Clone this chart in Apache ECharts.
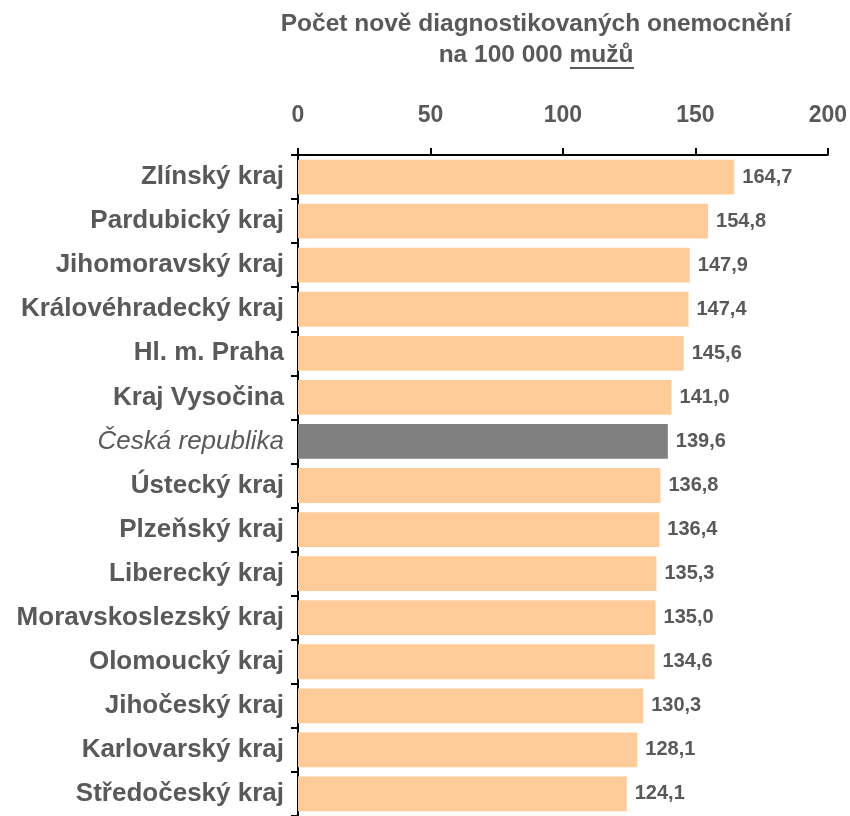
<!DOCTYPE html>
<html>
<head>
<meta charset="utf-8">
<script src="https://cdn.jsdelivr.net/npm/echarts@6/dist/echarts.min.js"></script>
<style>
  html, body { margin: 0; padding: 0; background: #fff; }
  #chart { width: 850px; height: 816px; }
</style>
</head>
<body>
<div id="chart"></div>
<script>
var kraje = [
  "Zlínský kraj", "Pardubický kraj", "Jihomoravský kraj", "Královéhradecký kraj",
  "Hl. m. Praha", "Kraj Vysočina", "Česká republika", "Ústecký kraj",
  "Plzeňský kraj", "Liberecký kraj", "Moravskoslezský kraj", "Olomoucký kraj",
  "Jihočeský kraj", "Karlovarský kraj", "Středočeský kraj"
];
var hodnoty = [164.7, 154.8, 147.9, 147.4, 145.6, 141.0, 139.6, 136.8, 136.4, 135.3, 135.0, 134.6, 130.3, 128.1, 124.1];
var celkem = "Česká republika";

var textColor = "#595959";
var font = "Liberation Sans, Arial, sans-serif";

var chart = echarts.init(document.getElementById("chart"));

var data = [];
kraje.forEach(function (k, i) {
  data.push({
    value: hodnoty[i],
    itemStyle: { color: k === celkem ? "#808080" : "#FFCC99" }
  });
});

var option = {
  animation: false,
  title: {
    text: "Počet nově diagnostikovaných onemocnění\nna 100 000 mužů",
    left: 531,
    top: 4,
    textAlign: "center",
    textStyle: {
      color: textColor,
      fontFamily: font,
      fontWeight: "bold",
      fontSize: 24.5,
      lineHeight: 31
    }
  },
  grid: {
    left: 298,
    right: 22,
    top: 155,
    bottom: -4
  },
  xAxis: {
    type: "value",
    position: "top",
    min: 0,
    max: 200,
    interval: 50,
    splitLine: { show: false },
    axisLine: { show: true, lineStyle: { color: "#000", width: 2 } },
    axisTick: { show: true, length: 7, lineStyle: { color: "#000", width: 2 } },
    axisLabel: {
      color: textColor,
      fontFamily: font,
      fontWeight: "bold",
      fontSize: 23,
      margin: 28
    }
  },
  yAxis: {
    type: "category",
    data: kraje,
    inverse: true,
    axisLine: { show: true, lineStyle: { color: "#000", width: 2 } },
    axisTick: { show: true, length: 7, lineStyle: { color: "#000", width: 2 } },
    axisLabel: {
      margin: 14,
      fontFamily: font,
      fontSize: 26,
      color: textColor,
      formatter: function (v) {
        return v === celkem ? "{it|" + v + "}" : "{b|" + v + "}";
      },
      rich: {
        b: { fontFamily: font, fontWeight: "bold", fontSize: 26, color: textColor },
        it: { fontFamily: font, fontStyle: "italic", fontSize: 26, color: textColor }
      }
    }
  },
  series: [
    {
      type: "bar",
      data: data,
      barCategoryGap: "21%",
      label: {
        show: true,
        position: "right",
        distance: 8,
        color: textColor,
        fontFamily: font,
        fontWeight: "bold",
        fontSize: 20,
        formatter: function (p) {
          return p.value.toFixed(1).replace(".", ",");
        }
      }
    }
  ],
  graphic: [
    {
      // podtržení slova "mužů"
      type: "line",
      shape: { x1: 570, y1: 68, x2: 634, y2: 68 },
      style: { stroke: textColor, lineWidth: 2 }
    }
  ]
};

chart.setOption(option);
</script>
</body>
</html>
